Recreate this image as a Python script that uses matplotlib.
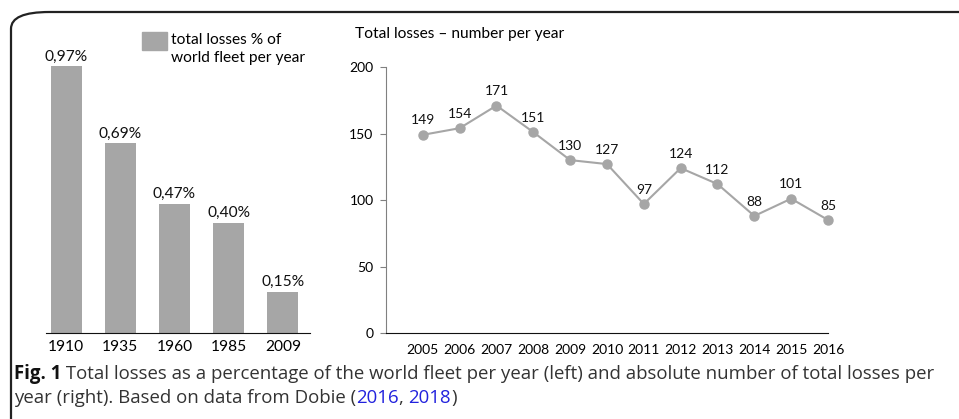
import matplotlib.pyplot as plt
from matplotlib.patches import FancyBboxPatch, Rectangle

# data
bar_years = ["1910", "1935", "1960", "1985", "2009"]
bar_values = [0.97, 0.69, 0.47, 0.40, 0.15]
bar_labels = ["0,97%", "0,69%", "0,47%", "0,40%", "0,15%"]

line_years = [2005, 2006, 2007, 2008, 2009, 2010, 2011, 2012, 2013, 2014, 2015, 2016]
line_values = [149, 154, 171, 151, 130, 127, 97, 124, 112, 88, 101, 85]

W, H = 959, 419
grey = "#a6a6a6"
fs = 11.2     # left chart + titles
fs2 = 10.0    # right chart numbers
plt.rcParams['font.family'] = ['Lato', 'DejaVu Sans']

fig = plt.figure(figsize=(W / 100, H / 100), dpi=100)


def px_axes(x0, y0, x1, y1):
    # pixel box (top-left origin) -> figure axes
    return fig.add_axes([x0 / W, (H - y1) / H, (x1 - x0) / W, (y1 - y0) / H])


# border frame
frame = FancyBboxPatch((11 / W, -0.2), 1.2, (H - 12) / H + 0.2,
                       boxstyle="round,pad=0,rounding_size=0.04",
                       transform=fig.transFigure, fill=False,
                       edgecolor="#222222", linewidth=1.6, clip_on=False)
fig.patches.append(frame)

# left bar chart
ax1 = px_axes(46, 58, 310, 333)
xs = list(range(len(bar_years)))
ax1.bar(xs, bar_values, width=0.57, color=grey)
for x, v, lab in zip(xs, bar_values, bar_labels):
    ax1.annotate(lab, (x, v), xytext=(0, 2), textcoords="offset points",
                 ha="center", va="bottom", fontsize=fs, color="#111111")
ax1.set_xlim(-0.37, 4.5)
ax1.set_ylim(0, 1.0)
ax1.set_xticks(xs)
ax1.set_xticklabels(bar_years, fontsize=fs)
ax1.tick_params(axis="x", length=0, pad=5)
ax1.set_yticks([])
for s in ["top", "right", "left"]:
    ax1.spines[s].set_visible(False)
ax1.spines["bottom"].set_color("#111111")
ax1.patch.set_alpha(0)

# legend box drawn by hand
fig.patches.append(Rectangle((142 / W, (H - 50) / H), 25 / W, 18 / H,
                             transform=fig.transFigure, color=grey))
fig.text(171 / W, (H - 40) / H, "total losses % of", fontsize=fs, va="center")
fig.text(171 / W, (H - 58) / H, "world fleet per year", fontsize=fs, va="center")

# right line chart
ax2 = px_axes(386, 67, 828, 333)
ax2.plot(line_years, line_values, color=grey, linewidth=1.5,
         marker="o", markersize=6.5, clip_on=False)
for x, v in zip(line_years, line_values):
    ax2.annotate(str(v), (x, v), xytext=(0, 6), textcoords="offset points",
                 ha="center", va="bottom", fontsize=fs2, color="#111111")
ax2.set_xlim(2004, 2016)
ax2.set_ylim(0, 200)
ax2.set_yticks([0, 50, 100, 150, 200])
ax2.set_xticks(line_years)
ax2.tick_params(axis="x", length=0, pad=8, labelsize=fs2)
ax2.tick_params(axis="y", length=4, color="#808080", labelsize=fs2, pad=5)
for s in ["top", "right"]:
    ax2.spines[s].set_visible(False)
ax2.spines["left"].set_color("#808080")
ax2.spines["bottom"].set_color("#111111")
ax2.patch.set_alpha(0)
fig.text(355 / W, (H - 34) / H, "Total losses \u2013 number per year",
         fontsize=fs, va="center")

# caption
cap_font = ['Open Sans', 'DejaVu Sans']
cap_size = 13.4
cap_col = "#333333"
fig.canvas.draw()
renderer = fig.canvas.get_renderer()


def put_run(pieces, x_px, y_px):
    x = x_px
    for txt, weight, col in pieces:
        t = fig.text(x / W, (H - y_px) / H, txt, fontsize=cap_size,
                     family=cap_font, weight=weight, color=col, va="center")
        bb = t.get_window_extent(renderer)
        x += bb.width


put_run([("Fig. 1", "bold", "#111111"),
         (" Total losses as a percentage of the world fleet per year (left) and absolute number of total losses per",
          "normal", cap_col)], 14, 374)
put_run([("year (right). Based on data from Dobie (", "normal", cap_col),
         ("2016", "normal", "#2222dd"),
         (", ", "normal", cap_col),
         ("2018", "normal", "#2222dd"),
         (")", "normal", cap_col)], 14, 398)

fig.savefig("out.png", dpi=100)
